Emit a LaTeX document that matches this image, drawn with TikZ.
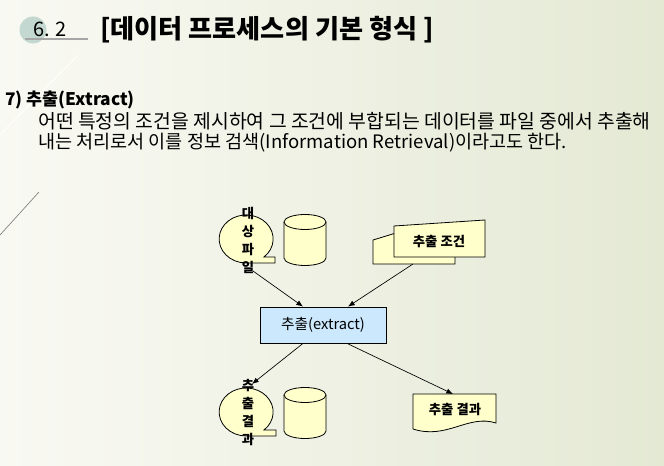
\documentclass[tikz,border=0pt]{standalone}
\usepackage{fontspec}
\setmainfont{Noto Sans CJK KR}
\usetikzlibrary{arrows.meta,calc}
\definecolor{bgleft}{RGB}{249,249,243}
\definecolor{bgright}{RGB}{228,233,212}
\definecolor{dotteal}{RGB}{196,216,210}
\definecolor{papyrus}{RGB}{255,255,204}
\definecolor{procblue}{RGB}{204,232,252}
\tikzset{
    shp/.style={draw=black,line width=0.6pt,fill=papyrus},
    lnk/.style={-{Latex[length=5pt,width=4pt]},line width=0.5pt},
    stack/.style={font=\bfseries\fontsize{10}{13.5}\selectfont,align=center,inner sep=0pt},
    lbl/.style={font=\bfseries\fontsize{10}{12}\selectfont,inner sep=0pt},
    drum/.pic={
        \draw[shp] (-21,-18) -- (-21,18) arc[start angle=180,end angle=0,x radius=21,y radius=7.5]
            -- (21,-18) arc[start angle=0,end angle=-180,x radius=21,y radius=7.5] -- cycle;
        \draw[line width=0.6pt] (-21,-18) arc[start angle=180,end angle=0,x radius=21,y radius=7.5];
    }
}

\begin{document}
\begin{tikzpicture}[x=0.75pt,y=-0.75pt]
                    \shade[left color=bgleft,right color=bgright] (0,0) rectangle (664,466);
                    \useasboundingbox (0,0) rectangle (664,466);
                    \draw[white!60!bgleft,line width=1pt] (0,135) -- (78,55);
                    \draw[gray,line width=0.5pt] (0,235) -- (39,192);

                    \fill[dotteal] (33,30) circle[radius=13.5];
                    \draw[gray!70,line width=0.8pt] (25,39) -- (88,39);
                    \node[anchor=base west,inner sep=0pt,font=\fontsize{15}{15}\selectfont] (secno) at (33,37) {6. 2};
                    \node[anchor=west,inner sep=0pt,font=\bfseries\fontsize{19.6}{19.6}\selectfont] (title) at (100,30) {[데이터 프로세스의 기본 형식 ]};

                    \node[anchor=west,inner sep=0pt,font=\bfseries\fontsize{13}{13}\selectfont] (head) at (5,100) {7) 추출(Extract)};
                    \node[anchor=west,inner sep=0pt,font=\fontsize{14.5}{14.5}\selectfont] (line1) at (38,121) {어떤 특정의 조건을 제시하여 그 조건에 부합되는 데이터를 파일 중에서 추출해};
                    \node[anchor=west,inner sep=0pt,font=\fontsize{13.9}{13.9}\selectfont] (line2) at (38,143) {내는 처리로서 이를 정보 검색(Information Retrieval)이라고도 한다.};

                    \draw[shp] (246,263) -- (275,263) -- (275,257) -- (264,257)
                        arc[start angle=48.6,end angle=-270,x radius=27,y radius=24] -- cycle;
                    \node[stack] (src) at (248,240) {대\\상\\파\\일};
                    \pic (srcdb) at (305,240) {drum};

                    \draw[shp] (373,240) -- (396,233) -- (455,233) -- (455,264) -- (373,264) -- cycle;
                    \draw[shp] (394,226) -- (485,220) -- (485,257) -- (394,257) -- cycle;
                    \node[lbl] (cond) at (439,242) {추출 조건};

                    \node[draw=black,line width=0.6pt,fill=procblue,minimum width=94.5pt,minimum height=27pt,
                        inner sep=0pt,font=\fontsize{11}{12}\selectfont] (proc) at (323,325) {추출(extract)};

                    \draw[shp] (246,436) -- (276,436) -- (276,430) -- (264,430)
                        arc[start angle=48.6,end angle=-270,x radius=27,y radius=24] -- cycle;
                    \node[stack] (out) at (248,413) {추\\출\\결\\과};
                    \pic (outdb) at (305,413) {drum};

                    \draw[shp] (413,394) -- (496,394) -- (496,423) .. controls (468,414) and (447,440) .. (413,429) -- cycle;
                    \node[lbl] (res) at (455,410) {추출 결과};

                    \coordinate (srcout) at (253,271);
                    \coordinate (condout) at (413,264);
                    \coordinate (outin) at (252,384);
                    \coordinate (resin) at (453,394);
                    \draw[lnk] (srcout) -- ($(proc.north)+(-20,0)$);
                    \draw[lnk] (condout) -- ($(proc.north)+(25,0)$);
                    \draw[lnk] ($(proc.south)+(-20,0)$) -- (outin);
                    \draw[lnk] ($(proc.south)+(24,0)$) -- (resin);
\end{tikzpicture}
\end{document}
